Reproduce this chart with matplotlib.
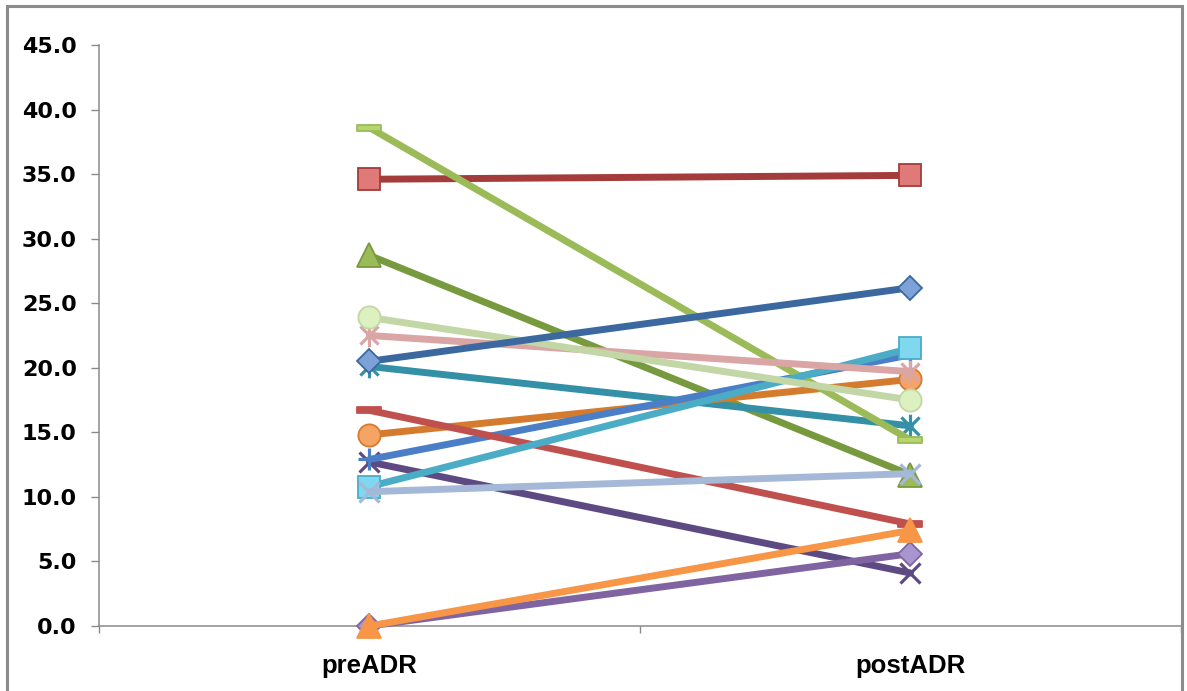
import matplotlib
matplotlib.use("Agg")
import matplotlib.pyplot as plt
from matplotlib.path import Path
from matplotlib.patches import Rectangle
from matplotlib.ticker import FormatStrFormatter, MultipleLocator, FixedLocator
import numpy as np

# categories and series values (pre / post)
categories = ["preADR", "postADR"]
pre_vals = [34.6, 28.7, 12.7, 20.1, 14.8, 12.9, 16.7, 38.6, 0.0, 10.8, 0.0, 10.4, 22.5, 23.9, 20.5]
post_vals = [34.9, 11.7, 4.1, 15.5, 19.1, 21.0, 7.9, 14.4, 5.6, 21.5, 7.4, 11.8, 19.7, 17.5, 26.2]

# styles for each series (line colour, marker face, marker)
line_colors = ["#A33C3A", "#789A3F", "#5E4A82", "#3390A6", "#D57B2E", "#4A7EC6", "#C0504D",
               "#9BBB59", "#8064A2", "#4BACC6", "#F79646", "#A5B8D8", "#D9A5A5", "#C3D6A6", "#3C68A0"]
face_colors = ["#E07A78", "#9BBB59", "#5E4A82", "#3390A6", "#F5A465", "#4A7EC6", "#C0504D",
               "#B5D56E", "#A896D0", "#7FD8F0", "#F79646", "#A5B8D8", "#D9A5A5", "#DCF0C0", "#7DA2D8"]

star = Path([(-1, -1), (1, 1), (-1, 1), (1, -1), (0, -1.3), (0, 1.3)],
            [Path.MOVETO, Path.LINETO, Path.MOVETO, Path.LINETO, Path.MOVETO, Path.LINETO])
dash = Path([(-1, -0.22), (1, -0.22), (1, 0.22), (-1, 0.22), (-1, -0.22)],
            [Path.MOVETO, Path.LINETO, Path.LINETO, Path.LINETO, Path.CLOSEPOLY])
markers = ["s", "^", "x", star, "o", "+", dash, dash, "D", "s", "^", "x", star, "o", "D"]
sizes = [16, 17, 15, 17, 16, 16, 17, 17, 12, 16, 17, 15, 17, 16, 12]

fig = plt.figure(figsize=(11.87, 6.91), dpi=100)
ax = fig.add_axes([0.0834, 0.0941, 0.9115, 0.8408])

x = np.arange(len(categories))
for i in range(len(pre_vals)):
    m = markers[i]
    open_marker = m in ("x", "+") or m is star
    ax.plot(x, [pre_vals[i], post_vals[i]], color=line_colors[i], lw=5,
            marker=m, ms=sizes[i],
            mfc=face_colors[i] if not open_marker else "none",
            mec=line_colors[i], mew=2.3 if open_marker else 1.3,
            solid_capstyle="round", zorder=3 + i * 0.01, clip_on=False)

ax.set_xlim(-0.5, 1.5)
ax.set_ylim(0, 45)

ax.yaxis.set_major_locator(MultipleLocator(5))
ax.yaxis.set_major_formatter(FormatStrFormatter("%.1f"))
ax.set_xticks(x)
ax.set_xticklabels(categories)
ax.xaxis.set_minor_locator(FixedLocator([-0.5, 0.5, 1.5]))

for s in ["top", "right"]:
    ax.spines[s].set_visible(False)
for s in ["left", "bottom"]:
    ax.spines[s].set_color("#8a8a8a")
    ax.spines[s].set_linewidth(1.1)

ax.tick_params(axis="y", length=6, width=1, color="#8a8a8a", pad=10)
ax.tick_params(axis="x", which="major", length=0, pad=20)
ax.tick_params(axis="x", which="minor", length=5, width=1, color="#8a8a8a")

for lab in ax.get_yticklabels():
    lab.set_fontfamily("DejaVu Sans")
    lab.set_fontweight("bold")
    lab.set_fontsize(16)
for lab in ax.get_xticklabels():
    lab.set_fontfamily("Liberation Sans")
    lab.set_fontweight("bold")
    lab.set_fontsize(18.5)

# chart frame
fig.patches.append(Rectangle((0.0062, -0.05), 0.9895, 1.0415, transform=fig.transFigure,
                             fill=False, edgecolor="#8c8c8c", lw=2.2))

fig.savefig("out.png", dpi=100)
